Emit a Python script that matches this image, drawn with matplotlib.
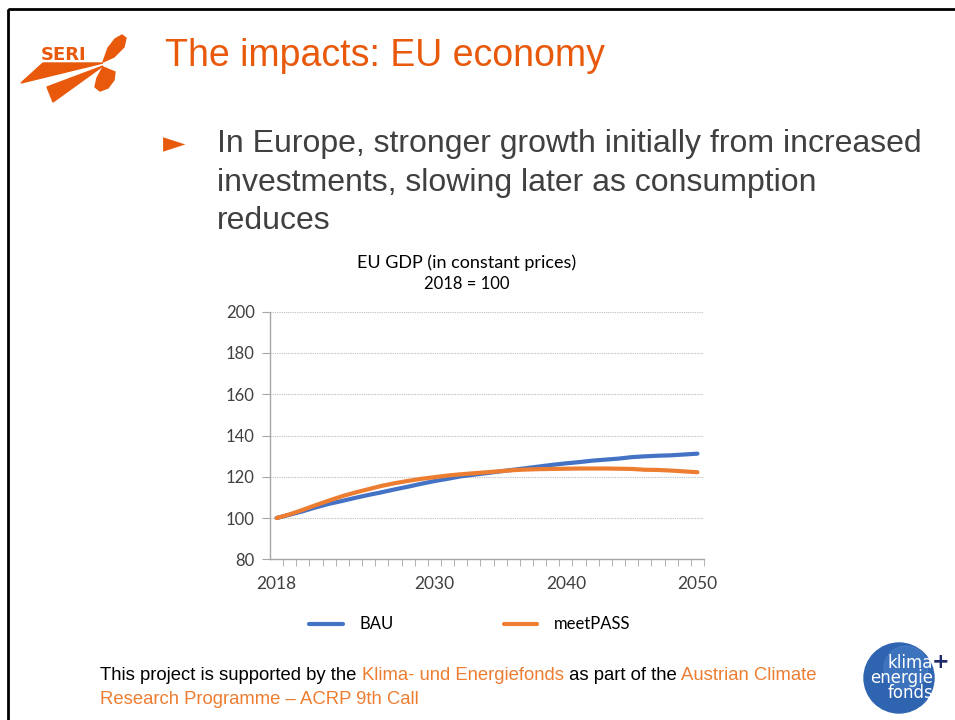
import numpy as np
import matplotlib.pyplot as plt
from matplotlib.patches import Polygon, Circle, Rectangle

years = list(range(2018, 2051))
bau = [100, 101.6, 103.3, 105.2, 106.9, 108.3, 109.8, 111.2, 112.5, 113.9,
       115.2, 116.6, 117.9, 119.0, 120.2, 121.0, 121.8, 122.6, 123.4, 124.2,
       125.0, 125.8, 126.5, 127.1, 127.8, 128.3, 128.8, 129.5, 129.9, 130.2,
       130.4, 130.8, 131.2]
meetpass = [100, 101.8, 104.0, 106.3, 108.5, 110.6, 112.4, 114.0, 115.6, 116.9,
            118.0, 119.0, 119.8, 120.6, 121.2, 121.7, 122.2, 122.7, 123.2, 123.5,
            123.7, 123.8, 123.9, 124.0, 124.0, 124.0, 123.9, 123.8, 123.4, 123.3,
            123.0, 122.6, 122.2]
label_years = [2018, 2030, 2040, 2050]
y_ticks = [80, 100, 120, 140, 160, 180, 200]

ORANGE = "#E8590C"
BLUE = "#4472C4"
LORANGE = "#ED7D31"
TXT = "#404040"

fig = plt.figure(figsize=(9.55, 7.2), dpi=100)

# slide layer in pixel coordinates
bg = fig.add_axes([0, 0, 1, 1])
bg.set_xlim(0, 955)
bg.set_ylim(720, 0)
bg.axis("off")
bg.add_patch(Rectangle((7.5, 8.5), 960, 720, fill=False, ec="black", lw=2))

# SERI logo
bg.add_patch(Polygon([(21, 83), (43, 63), (103, 63)], color=ORANGE))
bg.add_patch(Polygon([(47, 87), (53, 102), (103, 66)], color=ORANGE))
bg.add_patch(Polygon([(103, 62), (108, 48), (115, 39), (122, 35), (126, 38), (124, 47), (114, 57)],
                     color=ORANGE))
bg.add_patch(Polygon([(103, 67), (97, 78), (95, 87), (100, 91), (108, 88), (114, 80), (115, 72)],
                     color=ORANGE))
bg.text(41, 60, "SERI", color=ORANGE, fontsize=13, family="Liberation Sans Narrow",
        weight="bold", va="baseline")

bg.text(165, 56, "The impacts: EU economy", color=ORANGE, fontsize=27,
        family="Liberation Sans", va="center")

bg.text(163, 144, "\u25ba", color=ORANGE, fontsize=21, family="DejaVu Sans", va="center")
for i, line in enumerate(["In Europe, stronger growth initially from increased",
                          "investments, slowing later as consumption",
                          "reduces"]):
    bg.text(217, 144 + i * 38.5, line, color=TXT, fontsize=23,
            family="Liberation Sans", va="center")

bg.text(467, 263, "EU GDP (in constant prices)", color="black", fontsize=13,
        family="Lato", ha="center", va="center")
bg.text(467, 284, "2018 = 100", color="black", fontsize=12,
        family="Lato", ha="center", va="center")

# footer
fx = 100
parts = [("This project is supported by the ", "black"),
         ("Klima- und Energiefonds", LORANGE),
         (" as part of the ", "black"),
         ("Austrian Climate", LORANGE)]
renderer = fig.canvas.get_renderer()
for txt, col in parts:
    t = bg.text(fx, 676, txt, color=col, fontsize=13.3, family="Liberation Sans", va="center")
    bb = t.get_window_extent(renderer=renderer)
    fx += bb.width
bg.text(100, 699, "Research Programme \u2013 ACRP 9th Call", color=LORANGE, fontsize=13.3,
        family="Liberation Sans", va="center")

# klima energie fonds logo
bg.add_patch(Circle((899, 678), 35, color="#2E64B0"))
bg.add_patch(Circle((906, 668), 22, color="#5A8FD6", alpha=0.35))
bg.text(933, 678, "klima\nenergie\nfonds", color="white", fontsize=12, family="DejaVu Sans",
        ha="right", va="center", multialignment="right", linespacing=0.82)
bg.text(941, 662, "+", color="#1F2A6B", fontsize=15, family="DejaVu Sans", ha="center",
        va="center", weight="bold")

# chart
ax = fig.add_axes([270 / 955, 1 - 559.3 / 720, 434 / 955, 247.6 / 720])
ax.plot(years, bau, color=BLUE, lw=3, solid_capstyle="round", label="BAU")
ax.plot(years, meetpass, color=LORANGE, lw=3, solid_capstyle="round", label="meetPASS")
ax.set_xlim(2017.5, 2050.5)
ax.set_ylim(80, 200)
ax.set_yticks(y_ticks)
ax.set_xticks(label_years)
ax.set_xticks(np.arange(2018.5, 2051, 1), minor=True)
ax.tick_params(axis="x", which="major", length=0, pad=12, labelsize=12.5, labelcolor=TXT)
ax.tick_params(axis="x", which="minor", length=5, color="#A6A6A6", direction="out")
ax.tick_params(axis="y", length=6, color="#A6A6A6", pad=5, labelsize=12, labelcolor=TXT)
for lab in ax.get_xticklabels() + ax.get_yticklabels():
    lab.set_family("Lato")
ax.grid(axis="y", color="#BFBFBF", lw=0.8, ls=(0, (1, 1)))
ax.set_axisbelow(True)
for s in ["top", "right"]:
    ax.spines[s].set_visible(False)
for s in ["left", "bottom"]:
    ax.spines[s].set_color("#A6A6A6")
    ax.spines[s].set_linewidth(1)

ax.legend(loc="center", bbox_to_anchor=(0.46, -0.263), ncol=2, frameon=False,
          handlelength=2.0, handletextpad=1.0, columnspacing=6.6,
          prop={"family": "Lato", "size": 12})

fig.savefig("out.png", dpi=100)
